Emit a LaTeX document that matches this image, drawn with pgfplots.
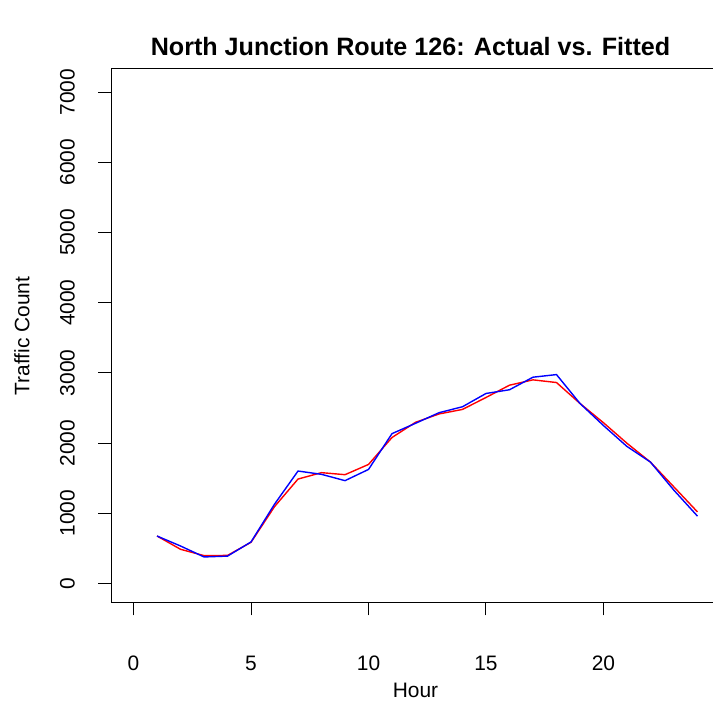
\documentclass[border=0pt]{standalone}
\usepackage{pgfplots}
\pgfplotsset{compat=1.18}
\usepackage{fontspec}
\setmainfont{Liberation Sans}
\begin{document}
\fontsize{21}{25}\selectfont
\begin{tikzpicture}[x=1bp,y=1bp]
\begin{axis}[
  at={(111bp,102bp)}, anchor=south west,
  scale only axis, width=609bp, height=534bp,
  xmin=-0.96, xmax=24.96, ymin=-278, ymax=7330,
  xtick={0,5,10,15,20}, ytick={0,1000,2000,3000,4000,5000,6000,7000},
  xtick pos=left, ytick pos=left, tick align=outside,
  major tick length=12.5bp,
  every tick/.style={black, line width=1bp},
  axis line style={line width=1bp},
  /pgf/number format/1000 sep={},
  /pgf/number format/assume math mode=true,
  ticklabel style={font=\fontsize{21}{25}\selectfont},
  xticklabel style={anchor=center, yshift=-48bp},
  yticklabel style={rotate=90, anchor=center, yshift=31bp},
  title={North Junction Route 126: Actual vs. Fitted},
  title style={font=\fontsize{25.2}{30}\selectfont\bfseries, at={(axis description cs:0.5,1)}, anchor=center, yshift=16bp, xshift=-5bp},
  xlabel={Hour},
  xlabel style={font=\fontsize{21}{25}\selectfont, at={(axis description cs:0.5,0)}, anchor=center, yshift=-87bp},
  ylabel={Traffic Count},
  ylabel style={font=\fontsize{21}{25}\selectfont, at={(axis description cs:0,0.5)}, anchor=center, yshift=89bp},
  clip=false,
]
\addplot[red, line width=1.4bp] coordinates {
(1,676) (2,487) (3,397) (4,400) (5,587) (6,1095) (7,1488) (8,1579) (9,1550) (10,1696)
(11,2080) (12,2296) (13,2415) (14,2480) (15,2650) (16,2825) (17,2901) (18,2863)
(19,2565) (20,2290) (21,1998) (22,1729) (23,1375) (24,1020)};
\addplot[blue, line width=1.4bp] coordinates {
(1,676) (2,534) (3,378) (4,390) (5,592) (6,1130) (7,1602) (8,1555) (9,1465) (10,1625)
(11,2135) (12,2282) (13,2433) (14,2518) (15,2707) (16,2760) (17,2939) (18,2976)
(19,2565) (20,2250) (21,1952) (22,1729) (23,1328) (24,960)};
\end{axis}
\pgfresetboundingbox
\path[use as bounding box] (0,0) rectangle (713,705);
\end{tikzpicture}
\end{document}
